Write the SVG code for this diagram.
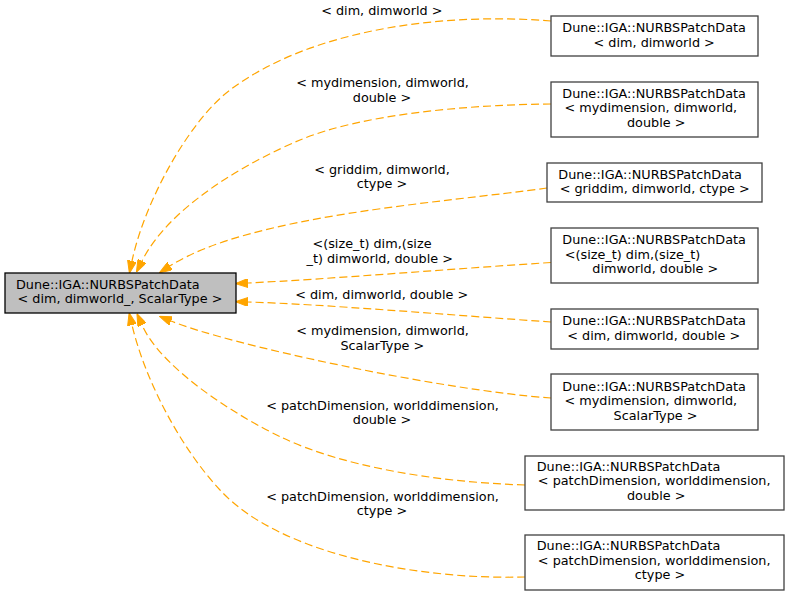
<svg xmlns="http://www.w3.org/2000/svg" width="789" height="596" viewBox="0 0 789 596">
<defs>
<style>
text{font-family:"DejaVu Sans","Liberation Sans",sans-serif;font-size:12.8px;fill:#000}
.m{text-anchor:middle}
.s{text-anchor:start}
.box{fill:#fff;stroke:#404040;stroke-width:1.3}
.main{fill:#bfbfbf;stroke:#000;stroke-width:1.3}
.e{fill:none;stroke:#ffa500;stroke-width:1.2;stroke-dasharray:8,4;marker-end:url(#ah)}
</style>
<marker id="ah" markerUnits="userSpaceOnUse" viewBox="0 0 12.5 9" refX="0" refY="4.5" markerWidth="12.5" markerHeight="9" orient="auto">
<polygon points="0,0 12.5,4.5 0,9" fill="#ffa500" stroke="#ffa500" stroke-width="1"/>
</marker>
</defs>
<rect width="789" height="596" fill="#fff"/>
<g id="edges">
<path class="e" d="M551,21 C440,12 310,30 230,90 C190,120 145,200 132,261"/>
<path class="e" d="M551,104 C460,105 360,115 300,140 C250,161 170,205 142,261"/>
<path class="e" d="M547,188 C440,203 250,215 170,266"/>
<path class="e" d="M551,262.5 C450,269 330,279 248,283"/>
<path class="e" d="M551,322 C450,315 320,304 248,302"/>
<path class="e" d="M551,398 C440,390 230,345 171,321"/>
<path class="e" d="M525,485 C430,482 340,465 283,438 C240,418 162,370 142,325"/>
<path class="e" d="M525,577 C420,580 280,555 220,490 C180,447 145,380 132,325"/>
<text class="m" x="381.8" y="15.3">&lt; dim, dimworld &gt;</text>
<text class="m" x="382.5" y="87.3">&lt; mydimension, dimworld,</text>
<text class="m" x="382" y="101.7">double &gt;</text>
<text class="m" x="382" y="174.3">&lt; griddim, dimworld,</text>
<text class="m" x="382" y="188.3">ctype &gt;</text>
<text class="m" x="372" y="248.3">&lt;(size_t) dim,(size</text>
<text class="m" x="379.7" y="262.7">_t) dimworld, double &gt;</text>
<text class="m" x="381.7" y="298.5">&lt; dim, dimworld, double &gt;</text>
<text class="m" x="382.5" y="335">&lt; mydimension, dimworld,</text>
<text class="m" x="382.3" y="349.5">ScalarType &gt;</text>
<text class="m" x="382.5" y="409.5">&lt; patchDimension, worlddimension,</text>
<text class="m" x="382" y="423.5">double &gt;</text>
<text class="m" x="382.5" y="500.5">&lt; patchDimension, worlddimension,</text>
<text class="m" x="382" y="515">ctype &gt;</text>
</g>
<g id="node-main">
<rect class="main" x="5" y="273" width="231" height="40"/>
<text class="s" x="16" y="288.5">Dune::IGA::NURBSPatchData</text>
<text class="m" x="120" y="303.3">&lt; dim, dimworld_, ScalarType &gt;</text>
</g>
<g id="node1">
<rect class="box" x="551" y="16" width="207" height="40"/>
<text class="s" x="562.3" y="32.3">Dune::IGA::NURBSPatchData</text>
<text class="m" x="654.2" y="46.8">&lt; dim, dimworld &gt;</text>
</g>
<g id="node2">
<rect class="box" x="551" y="82" width="207" height="55"/>
<text class="s" x="562.3" y="97.8">Dune::IGA::NURBSPatchData</text>
<text class="m" x="650.8" y="112.3">&lt; mydimension, dimworld,</text>
<text class="m" x="656.2" y="126.8">double &gt;</text>
</g>
<g id="node3">
<rect class="box" x="547" y="163" width="215" height="39"/>
<text class="s" x="558.3" y="178.5">Dune::IGA::NURBSPatchData</text>
<text class="m" x="654.7" y="193">&lt; griddim, dimworld, ctype &gt;</text>
</g>
<g id="node4">
<rect class="box" x="551" y="228" width="207" height="55"/>
<text class="s" x="562.3" y="244.3">Dune::IGA::NURBSPatchData</text>
<text class="m" x="632.5" y="258.8">&lt;(size_t) dim,(size_t)</text>
<text class="m" x="655.3" y="273.3">dimworld, double &gt;</text>
</g>
<g id="node5">
<rect class="box" x="551" y="309" width="207" height="40"/>
<text class="s" x="562.3" y="325">Dune::IGA::NURBSPatchData</text>
<text class="m" x="653.8" y="339.5">&lt; dim, dimworld, double &gt;</text>
</g>
<g id="node6">
<rect class="box" x="551" y="374" width="207" height="56"/>
<text class="s" x="562.3" y="390.5">Dune::IGA::NURBSPatchData</text>
<text class="m" x="650.8" y="405">&lt; mydimension, dimworld,</text>
<text class="m" x="655.5" y="419.5">ScalarType &gt;</text>
</g>
<g id="node7">
<rect class="box" x="525" y="456" width="259" height="54"/>
<text class="s" x="536.7" y="470.5">Dune::IGA::NURBSPatchData</text>
<text class="m" x="654.2" y="485">&lt; patchDimension, worlddimension,</text>
<text class="m" x="656.2" y="499.5">double &gt;</text>
</g>
<g id="node8">
<rect class="box" x="525" y="535" width="259" height="55"/>
<text class="s" x="536.7" y="550">Dune::IGA::NURBSPatchData</text>
<text class="m" x="654.2" y="564.5">&lt; patchDimension, worlddimension,</text>
<text class="m" x="660" y="579">ctype &gt;</text>
</g>
</svg>
